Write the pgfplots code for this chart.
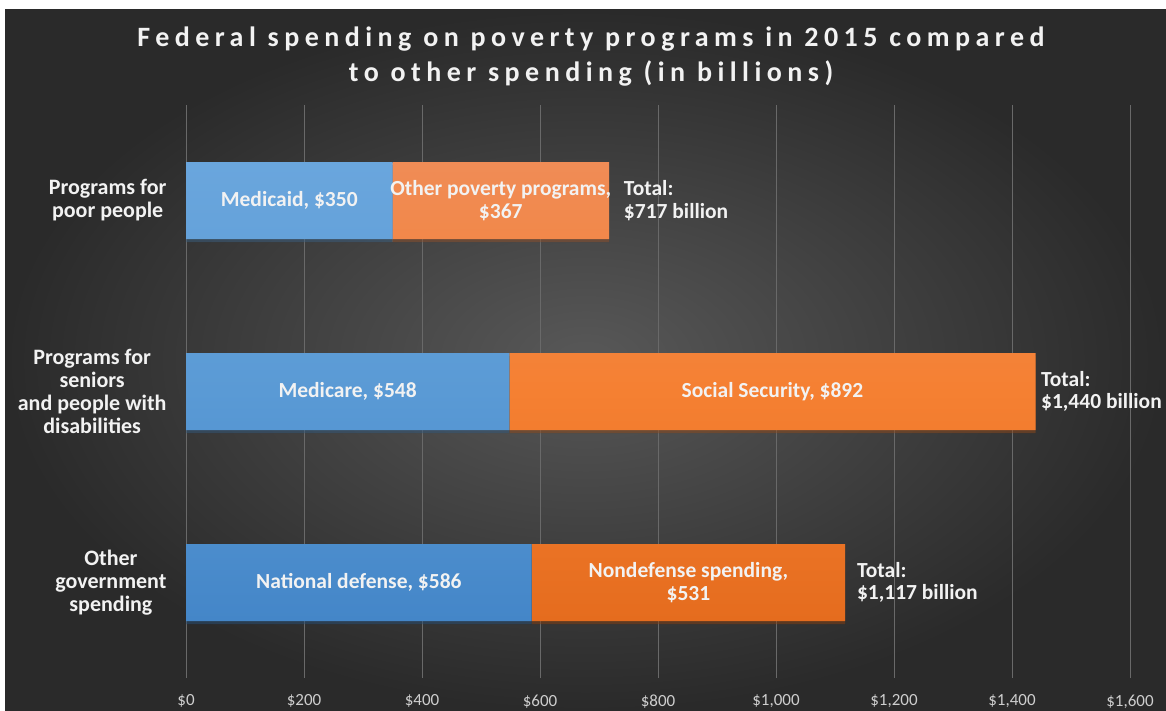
\documentclass[border=0pt]{standalone}
\usepackage{pgfplots}
\pgfplotsset{compat=1.18}
\usepackage{fontspec}
\setmainfont{Carlito}
\newfontfamily\titlefont[LetterSpace=19.5]{Carlito}

\definecolor{bgin}{RGB}{88,88,88}
\definecolor{bgout}{RGB}{42,42,42}
\definecolor{bluetop}{RGB}{106,166,221}
\definecolor{bluemid}{RGB}{90,154,213}
\definecolor{bluebot}{RGB}{68,134,200}
\definecolor{orgtop}{RGB}{240,140,86}
\definecolor{orgmid}{RGB}{245,128,50}
\definecolor{orgbot}{RGB}{229,108,30}
\definecolor{txt}{RGB}{242,242,242}
\definecolor{gridc}{RGB}{105,105,105}

\begin{document}
\begin{tikzpicture}[x=1pt,y=1pt,
  lbl/.style={font=\bfseries\fontsize{21.5}{22.5}\selectfont, text=txt, align=center}]
\useasboundingbox (0,0) rectangle (1166,-711);
\fill[white] (0,0) rectangle (1166,-711);
\shade[inner color=bgin, outer color=bgout] (5,-10) rectangle (1166,-711);
\node[font=\titlefont\bfseries\fontsize{28}{35}\selectfont, text=txt, align=center]
  at (591,-57) {Federal spending on poverty programs in 2015 compared\\to other spending (in billions)};

\begin{axis}[
  at={(186pt,-678pt)}, anchor=south west,
  scale only axis, width=944pt, height=573pt,
  xbar stacked, bar width=77pt,
  xmin=0, xmax=1600, ymin=-0.5, ymax=2.5, y dir=reverse,
  axis line style={draw=none},
  major tick length=0pt,
  xmajorgrids, major grid style={color=gridc, line width=0.9pt},
  xtick={0,200,...,1600},
  /pgf/number format/.cd, 1000 sep={,}, assume math mode=true, /pgfplots/.cd,
  xticklabel={\$\pgfmathprintnumber{\tick}},
  xticklabel style={font=\fontsize{17}{19}\selectfont, text=txt!85!black, yshift=-13pt},
  ytick={0,1,2},
  yticklabels={Programs for\\poor people, Programs for\\seniors\\and people with\\disabilities, Other\\government\\spending},
  yticklabel style={align=center, font=\bfseries\fontsize{22}{23}\selectfont, text=txt, xshift=-16pt},
  extra x ticks={0}, extra x tick labels={},
  extra x tick style={grid style={color=gray!75, line width=0.9pt}},
  clip=false,
  barshadow/.style={preaction={fill=black, fill opacity=0.3, transform canvas={yshift=-3pt}}},
]
\addplot[draw=none, barshadow, top color=bluetop, bottom color=bluebot, middle color=bluemid]
  coordinates {(350,0) (548,1) (586,2)};
\addplot[draw=none, barshadow, top color=orgtop, bottom color=orgbot, middle color=orgmid]
  coordinates {(367,0) (892,1) (531,2)};

\coordinate (l1) at (axis cs:175,0);
\coordinate (l2) at (axis cs:533.5,0);
\coordinate (l3) at (axis cs:274,1);
\coordinate (l4) at (axis cs:994,1);
\coordinate (l5) at (axis cs:293,2);
\coordinate (l6) at (axis cs:851.5,2);
\coordinate (t1) at (axis cs:742,0);
\coordinate (t2) at (axis cs:1449,1);
\coordinate (t3) at (axis cs:1137,2);
\end{axis}

\node[lbl] at (l1) {Medicaid, \$350};
\node[lbl] at (l2) {Other poverty programs,\\\$367};
\node[lbl] at (l3) {Medicare, \$548};
\node[lbl] at (l4) {Social Security, \$892};
\node[lbl] at (l5) {National defense, \$586};
\node[lbl] at (l6) {Nondefense spending,\\\$531};
\node[lbl, align=left, anchor=west, inner sep=0pt] at (t1) {Total:\\\$717 billion};
\node[lbl, align=left, anchor=west, inner sep=0pt] at (t2) {Total:\\\$1,440 billion};
\node[lbl, align=left, anchor=west, inner sep=0pt] at (t3) {Total:\\\$1,117 billion};
\end{tikzpicture}
\end{document}
